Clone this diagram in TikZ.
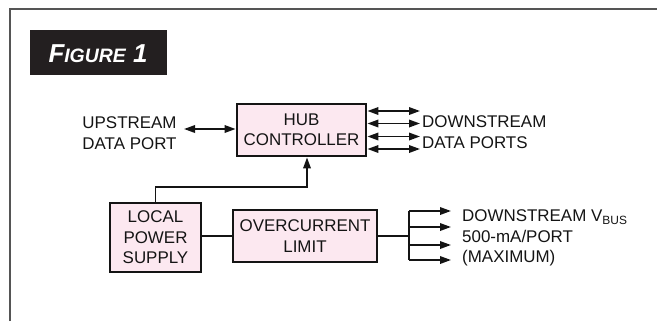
\documentclass[tikz,border=0pt]{standalone}
\usepackage{fontspec}
\setmainfont{Liberation Sans}
\usetikzlibrary{arrows.meta}
\definecolor{boxpink}{RGB}{252,232,240}
\definecolor{framegray}{RGB}{85,85,85}
\definecolor{titlebg}{RGB}{35,31,32}
\definecolor{ink}{RGB}{20,20,20}
\begin{document}
\begin{tikzpicture}[x=1bp,y=-1bp,
  blockbox/.style={draw=ink,line width=2.8bp,fill=boxpink,align=center,inner sep=0pt,
    font=\fontsize{17}{20.5}\selectfont,text=ink},
  label/.style={inner sep=0pt,font=\fontsize{17}{20.5}\selectfont,text=ink},
  conn/.style={draw=ink,line width=1.8bp},
  tip/.style={-{Triangle[length=11bp,width=7.5bp]}},
  bitip/.style={{Triangle[length=11bp,width=7.5bp]}-{Triangle[length=11bp,width=7.5bp]}}]
\useasboundingbox (0,0) rectangle (657,321);
% frame
\draw[framegray,line width=1.5bp] (10,321) -- (10,9) -- (657,9);
% title
\fill[titlebg] (30,30) rectangle (167,75);
\node[anchor=base,inner sep=0pt,text=white] (title) at (98,62)
  {\bfseries\itshape\fontsize{26}{26}\selectfont F\fontsize{19.5}{20}\selectfont IGURE\fontsize{26}{26}\selectfont{} 1};
% blocks
\node[blockbox,minimum width=129bp,minimum height=52bp] (hub) at (301.5,130) {HUB\\CONTROLLER};
\node[blockbox,minimum width=91bp,minimum height=69bp] (lps) at (155.5,237.5) {LOCAL\\POWER\\SUPPLY};
\node[blockbox,minimum width=144bp,minimum height=52bp] (oc) at (305,236) {OVERCURRENT\\LIMIT};
% labels
\node[label,align=center] (up) at (129.5,133) {UPSTREAM\\DATA PORT};
\node[label,align=left,anchor=west] (down) at (422,132) {DOWNSTREAM\\DATA PORTS};
\node[label,align=left,anchor=west] (vbus) at (462,238)
  {DOWNSTREAM V\raisebox{-3.5bp}{\fontsize{12}{12}\selectfont BUS}\\[0.5bp]500-mA/PORT\\(MAXIMUM)};
% upstream connector
\coordinate (upend) at (184,129);
\draw[conn,bitip] (upend) -- (upend -| hub.west);
% downstream data ports
\foreach \i/\yy in {1/111,2/123.5,3/136.5,4/149}{
  \coordinate (d\i) at (420,\yy);
  \draw[conn,bitip] (d\i -| hub.east) -- (d\i);
}
% power to hub
\coordinate (bend) at (307,187);
\draw[conn,tip] (lps.north) |- (bend) -- (bend |- hub.south);
% lps to oc
\draw[conn] (oc.west -| lps.east) -- (oc.west);
% outputs
\coordinate (split) at (409,236);
\draw[conn] (oc.east) -- (split);
\coordinate (vt) at (409,211);
\coordinate (vb) at (409,260);
\draw[conn] (vt) -- (vb);
\foreach \i/\yy in {1/211,2/227,3/245,4/260}{
  \coordinate (o\i) at (451,\yy);
  \draw[conn,tip] (o\i -| split) -- (o\i);
}
\end{tikzpicture}
\end{document}
